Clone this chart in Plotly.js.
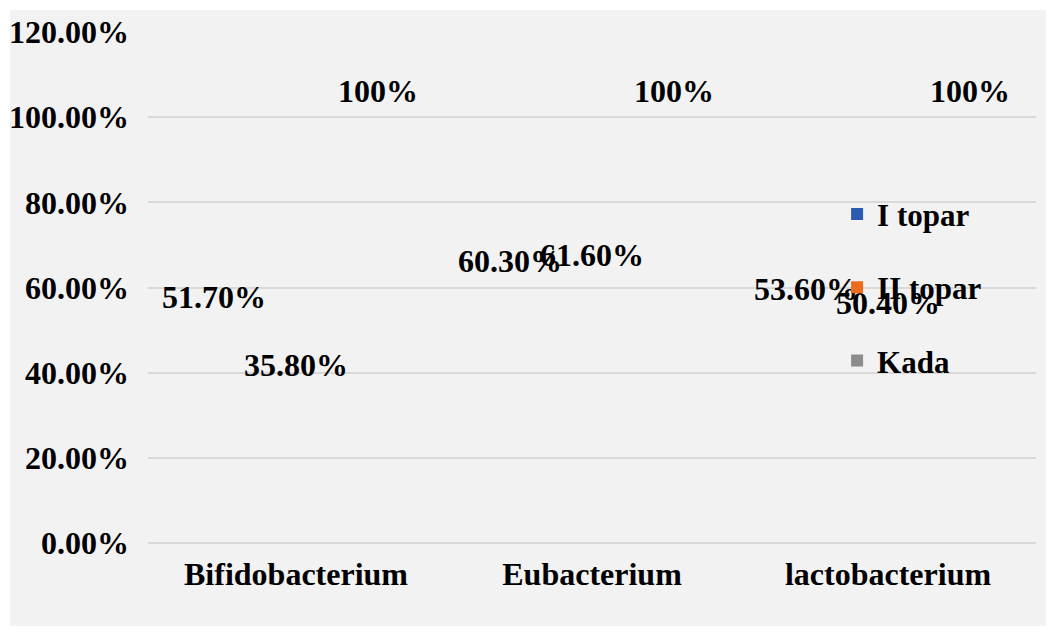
<!DOCTYPE html>
<html><head><meta charset="utf-8">
<script src="https://cdn.plot.ly/plotly-3.0.1.min.js"></script>
<style>
html,body{margin:0;padding:0;background:#fff;}
#chart{position:absolute;left:10px;top:10px;width:1036px;height:616px;}
</style></head>
<body><div id="chart"></div>
<script>
const categories = ["Bifidobacterium", "Eubacterium", "lactobacterium"];
const seriesNames = ["I topar", "II topar", "Kada"];
const iTopar = [0.517, 0.603, 0.536];
const iiTopar = [0.358, 0.616, 0.504];
const kada = [1.0, 1.0, 1.0];
const iToparLabels = ["51.70%", "60.30%", "53.60%"];
const iiToparLabels = ["35.80%", "61.60%", "50.40%"];
const kadaLabels = ["100%", "100%", "100%"];
const colors = ["#2a5bb0", "#ec6b1c", "#8c8c8c"];

const fam = "Liberation Serif, Times New Roman, serif";
const values = [iTopar, iiTopar, kada];
const labels = [iToparLabels, iiToparLabels, kadaLabels];
const traces = values.map((v, i) => ({
  type: "bar",
  name: seriesNames[i],
  legendgroup: "g" + i,
  x: categories,
  y: v,
  text: labels[i],
  textposition: "outside",
  constraintext: "none",
  texttemplate: "<sub>\u00a0</sub><b>%{text}</b><sub>\u00a0</sub>",
  textfont: {family: fam, size: 32, color: "#000"},
  cliponaxis: false,
  marker: {color: colors[i], opacity: 0},
  hoverinfo: "x+y+name"
}));

const layout = {
  width: 1036, height: 616,
  paper_bgcolor: "#f2f2f2",
  plot_bgcolor: "#f2f2f2",
  margin: {l: 138, r: 10, t: 22, b: 83},
  barmode: "group",
  bargap: 0.17,
  bargroupgap: 0,
  showlegend: true,
  legend: {
    x: 0.776, y: 0.696, xanchor: "left", yanchor: "top",
    bgcolor: "rgba(0,0,0,0)",
    font: {family: fam, size: 31, color: "#000", weight: "bold"},
    traceorder: "grouped", tracegroupgap: 30
  },
  xaxis: {
    type: "category",
    tickfont: {family: fam, size: 32, color: "#000", weight: "bold"},
    showgrid: false, showline: false, ticks: "",
    ticklabelstandoff: 9
  },
  yaxis: {
    range: [0, 1.2],
    tickvals: [0, 0.2, 0.4, 0.6, 0.8, 1.0, 1.2],
    tickformat: ".2%",
    tickfont: {family: fam, size: 32, color: "#000", weight: "bold"},
    showgrid: true, gridcolor: "#d9d9d9", gridwidth: 2,
    zeroline: true, zerolinecolor: "#d9d9d9", zerolinewidth: 2,
    showline: false, ticks: "",
    ticklabelstandoff: 18
  }
};
Plotly.newPlot("chart", traces, layout, {displayModeBar: false, staticPlot: true});
</script>
</body></html>
